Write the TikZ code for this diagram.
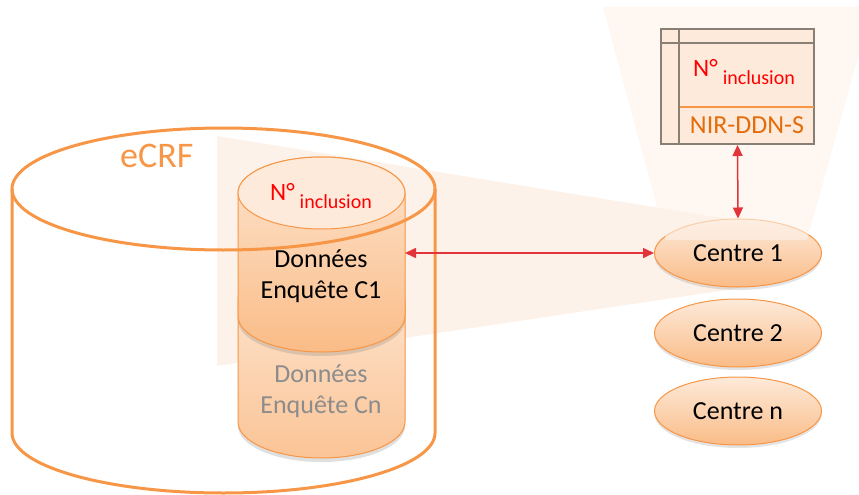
\documentclass[tikz,border=0pt]{standalone}
\usepackage{fontspec}
\setmainfont{Carlito}
\usetikzlibrary{arrows.meta,shapes.geometric,shadows}

\definecolor{acc}{RGB}{247,150,70}
\definecolor{accdark}{RGB}{228,108,10}
\definecolor{facelt}{RGB}{253,234,218}
\definecolor{bodytop}{RGB}{253,228,206}
\definecolor{bodybot}{RGB}{250,188,135}
\definecolor{cntop}{RGB}{253,232,214}
\definecolor{cnbot}{RGB}{251,196,150}
\definecolor{fanfill}{RGB}{253,242,233}
\definecolor{linkred}{RGB}{226,52,58}
\definecolor{inclred}{RGB}{255,0,0}
\definecolor{tblgray}{RGB}{137,127,117}
\definecolor{fadegray}{RGB}{140,140,140}

\tikzset{
  centre/.style={ellipse, draw=acc, line width=1pt, top color=facelt, bottom color=bodybot,
    minimum width=167pt, minimum height=68pt, inner sep=0pt,
    font=\fontsize{26}{30}\selectfont,
    drop shadow={opacity=0.22, shadow xshift=0pt, shadow yshift=-3pt}},
  link/.style={linkred, line width=1.5pt,
    {Triangle[length=11pt,width=10pt]}-{Triangle[length=11pt,width=10pt]}},
  bigtxt/.style={anchor=base, inner sep=0pt, font=\fontsize{26}{30}\selectfont},
  dbshadow/.style={drop shadow={opacity=0.25, shadow xshift=0pt, shadow yshift=-4pt}},
}

\newcommand{\numincl}{{\fontsize{25}{25}\selectfont N°}\hspace{5pt}{\fontsize{20}{20}\selectfont\raisebox{-8pt}{inclusion}}}

\begin{document}
\begin{tikzpicture}[x=1pt,y=-1pt]
\useasboundingbox (0,0) rectangle (859,495);

% light projection cone from the database towards the first centre
\fill[fanfill] (217,136) -- (740,221) -- (740,288) -- (217,366) -- cycle;

% stacked survey cylinder (Cn, behind)
\path[dbshadow, top color=cntop, bottom color=cnbot, draw=acc, line width=1pt]
  (238,300) -- (238,422) arc[start angle=180, end angle=360, x radius=83.5pt, y radius=36pt]
  -- (405,300) arc[start angle=0, end angle=180, x radius=83.5pt, y radius=36pt] -- cycle;

% survey cylinder C1 (front)
\path[dbshadow, top color=bodytop, bottom color=bodybot, draw=acc, line width=1pt]
  (238,193) -- (238,316) arc[start angle=180, end angle=360, x radius=83.5pt, y radius=36pt]
  -- (405,193) arc[start angle=0, end angle=180, x radius=83.5pt, y radius=36pt] -- cycle;
\draw[acc, line width=1pt, fill=facelt] (321.5,193) ellipse [x radius=83.5pt, y radius=36pt];
\coordinate (dbeast) at (405,253);

% eCRF container cylinder
\draw[acc, line width=3pt] (223.5,189) ellipse [x radius=211.5pt, y radius=61pt];
\draw[acc, line width=3pt] (12,189) -- (12,433)
  arc[start angle=180, end angle=360, x radius=211.5pt, y radius=60pt] -- (435,189);
\node[anchor=base west, inner sep=0pt, text=acc, font=\fontsize{36}{40}\selectfont] (ecrf) at (120,167) {eCRF};

% texts on the cylinders
\node[anchor=base, inner sep=0pt, text=inclred] (dbid) at (321,200.7) {\numincl};
\node[bigtxt] (c1a) at (321,267) {Données};
\node[bigtxt] (c1b) at (321,298) {Enquête C1};
\node[bigtxt, text=fadegray] (cna) at (321,382) {Données};
\node[bigtxt, text=fadegray] (cnb) at (321,413) {Enquête Cn};

% centres
\node[centre] (centre1) at (738,253) {Centre 1};
\node[centre] (centre2) at (738,333) {Centre 2};
\node[centre] (centren) at (738,411) {Centre n};

% light projection cone from the first centre up to its table
\begin{scope}
  \clip (0,0) rectangle (859,495);
  \fill[fanfill, opacity=0.6] (603,7) -- (872,7) -- (807,240) -- (666,240) -- cycle;
\end{scope}

% local identification table
\node[draw=tblgray, line width=2pt, fill=facelt, minimum width=153pt, minimum height=115pt,
  inner sep=0pt] (tbl) at (737.5,86.5) {};
\draw[tblgray, line width=2pt] ([xshift=19pt]tbl.north west) -- ([xshift=19pt]tbl.south west);
\draw[tblgray, line width=2pt] ([yshift=-15pt]tbl.north west) -- ([yshift=-15pt]tbl.north east);
\draw[acc, line width=1.5pt] ([xshift=20pt,yshift=38pt]tbl.south west) -- ([xshift=-1pt,yshift=38pt]tbl.south east);
\node[anchor=base, inner sep=0pt, text=inclred] (tblid) at (744,77) {\numincl};
\node[bigtxt, text=accdark] (tblnir) at (747,133) {NIR-DDN-S};

% links
\draw[link] (dbeast) -- (centre1.west);
\draw[link] (tbl.south) -- (centre1.north);
\end{tikzpicture}
\end{document}
